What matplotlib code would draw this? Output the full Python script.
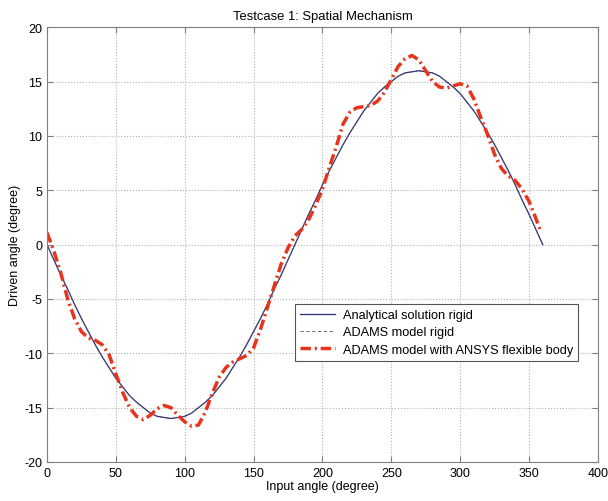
import matplotlib.pyplot as plt
import numpy as np

plt.rcParams['font.family'] = ['Liberation Sans', 'DejaVu Sans']
plt.rcParams['axes.unicode_minus'] = False

# analytical rigid solution, read every 5 degrees
x_rigid = list(range(0, 361, 5))
y_analytical = [0.0, -1.4, -2.8, -4.1, -5.5, -6.8, -8.0, -9.2, -10.3, -11.3,
                -12.3, -13.1, -13.9, -14.5, -15.0, -15.5, -15.8, -15.9, -16.0,
                -15.9, -15.8, -15.5, -15.0, -14.5, -13.9, -13.1, -12.3, -11.3,
                -10.3, -9.2, -8.0, -6.8, -5.5, -4.1, -2.8, -1.4, 0.0,
                1.4, 2.8, 4.1, 5.5, 6.8, 8.0, 9.2, 10.3, 11.3,
                12.3, 13.1, 13.9, 14.5, 15.0, 15.5, 15.8, 15.9, 16.0,
                15.9, 15.8, 15.5, 15.0, 14.5, 13.9, 13.1, 12.3, 11.3,
                10.3, 9.2, 8.0, 6.8, 5.5, 4.1, 2.8, 1.4, 0.0]
# ADAMS rigid model lies on top of the analytical curve
y_adams_rigid = list(y_analytical)

# ADAMS with ANSYS flexible body
x_flex = list(range(0, 356, 5)) + [358]
y_flex = [1.1, -0.6, -2.6, -5.0, -6.8, -8.0, -8.6, -8.8, -9.2, -10.1,
          -11.9, -13.6, -15.0, -15.8, -16.1, -15.7, -15.1, -14.8, -15.0, -15.7,
          -16.3, -16.7, -16.6, -15.4, -13.7, -12.2, -11.3, -10.8, -10.5, -10.2,
          -9.5, -7.8, -5.8, -3.8, -1.8, -0.3, 0.8, 1.4, 2.3, 3.6,
          5.1, 7.1, 9.0, 11.1, 12.2, 12.6, 12.7, 12.8, 13.2, 14.0,
          15.2, 16.4, 17.1, 17.4, 17.0, 16.0, 15.0, 14.5, 14.4, 14.6,
          14.8, 14.6, 13.4, 11.7, 10.1, 8.3, 7.0, 6.3, 5.9, 5.1,
          4.0, 2.4, 1.4]

fig = plt.figure(figsize=(6.08, 5.02), dpi=100)
ax = fig.add_axes([0.0773, 0.0777, 0.906, 0.866])

ax.plot(x_rigid, y_analytical, color='#2b2b86', lw=0.9, label='Analytical solution rigid')
ax.plot(x_rigid, y_adams_rigid, color='#555555', lw=0.6, ls=(0, (4, 3)), label='ADAMS model rigid')
ax.plot(x_flex, y_flex, color='#e8341c', lw=2.5, ls=(0, (3.0, 1.1, 0.6, 1.1)),
        label='ADAMS model with ANSYS flexible body')

ax.set_xlim(0, 400)
ax.set_ylim(-20, 20)
ax.set_xticks(np.arange(0, 401, 50))
ax.set_yticks(np.arange(-20, 21, 5))
ax.grid(True, ls=':', color='#b0b0b0', lw=0.8)
ax.tick_params(direction='in', top=True, right=True, labelsize=9, length=4, color='#808080')
for s in ax.spines.values():
    s.set_color('#808080')

ax.set_title('Testcase 1: Spatial Mechanism', fontsize=9.4)
ax.set_xlabel('Input angle (degree)', fontsize=9, labelpad=1)
ax.set_ylabel('Driven angle (degree)', fontsize=9, labelpad=2)

leg = ax.legend(loc='upper right', bbox_to_anchor=(0.964, 0.363), fontsize=9.2,
                fancybox=False, framealpha=1, edgecolor='#555555',
                borderaxespad=0, handlelength=2.7, labelspacing=0.4,
                borderpad=0.4, handletextpad=0.6)
leg.get_frame().set_linewidth(0.8)

fig.savefig('out.png', dpi=100)
